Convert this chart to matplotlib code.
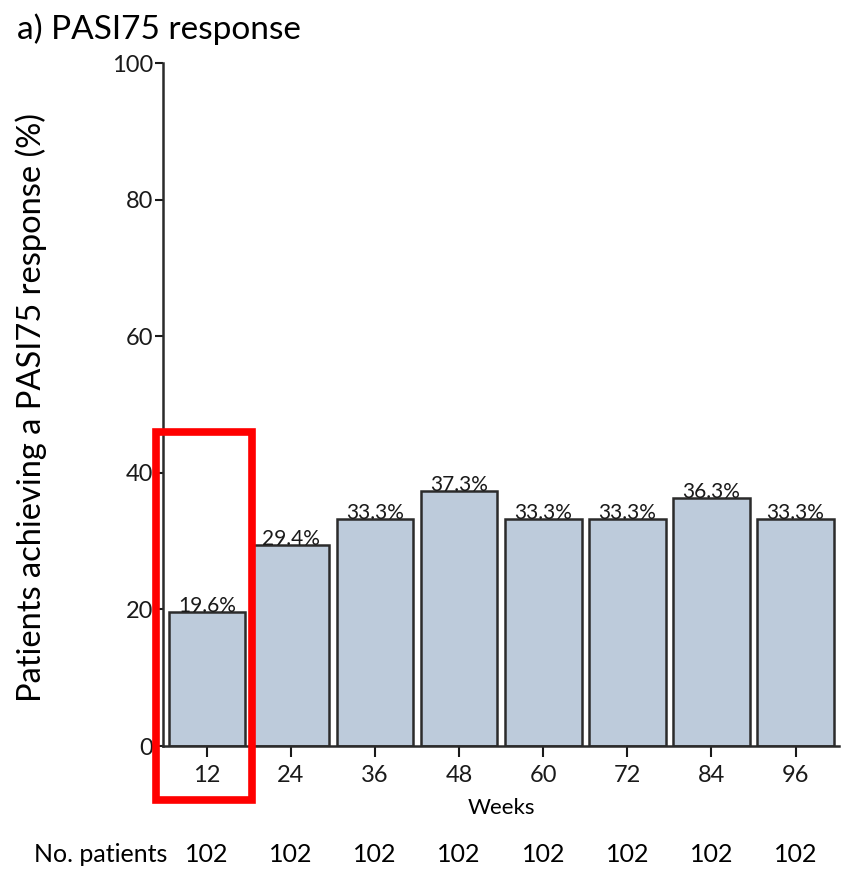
import numpy as np
import matplotlib.pyplot as plt
from matplotlib.patches import Rectangle

plt.rcParams['font.family'] = ['Lato', 'DejaVu Sans']

weeks = ['12', '24', '36', '48', '60', '72', '84', '96']
response = [19.6, 29.4, 33.3, 37.3, 33.3, 33.3, 36.3, 33.3]
n_patients = [102, 102, 102, 102, 102, 102, 102, 102]

fig = plt.figure(figsize=(8.41, 8.69), dpi=100)
ax = fig.add_axes([0.194, 0.1415, 0.804, 0.786])

x = np.arange(len(weeks))
ax.bar(x, response, width=0.91, color='#bdcbdb', edgecolor='#2b2b2b', linewidth=1.8)

for xi, v in zip(x, response):
    ax.text(xi, v - 0.6, f'{v}%', ha='center', va='bottom', fontsize=15, color='#1a1a1a')

ax.set_xlim(-0.52, 7.52)
ax.set_ylim(0, 100)
ax.set_yticks(range(0, 101, 20))
ax.set_xticks(x)
ax.set_xticklabels(weeks)
ax.tick_params(axis='y', labelsize=17, length=6, width=1.5, pad=1, colors='#1a1a1a')
ax.tick_params(axis='x', labelsize=17, length=8, width=1.5, pad=6, colors='#1a1a1a')
for s in ['top', 'right']:
    ax.spines[s].set_visible(False)
for s in ['left', 'bottom']:
    ax.spines[s].set_linewidth(1.8)
    ax.spines[s].set_color('#2b2b2b')

ax.set_ylabel('Patients achieving a PASI75 response (%)', fontsize=23.5)
ax.yaxis.set_label_coords(-0.172, 0.496)
ax.set_xlabel('Weeks', fontsize=16, labelpad=8)

# patients per visit below the axis
fig.text(0.04, 0.017, 'No. patients', fontsize=18, ha='left', va='center')
for xi, n in zip(x, n_patients):
    xf = fig.transFigure.inverted().transform(ax.transData.transform((xi, 0)))[0]
    fig.text(xf, 0.017, str(n), fontsize=18, ha='center', va='center')

fig.text(0.02, 0.948, 'a) PASI75 response', fontsize=24, ha='left', va='bottom')

# highlight box around week 12
ax.add_patch(Rectangle((-0.6, -7.9), 1.14, 53.9, fill=False, edgecolor='#ff0000',
                       linewidth=5.5, clip_on=False, zorder=5))

fig.savefig('out.png', dpi=100)
